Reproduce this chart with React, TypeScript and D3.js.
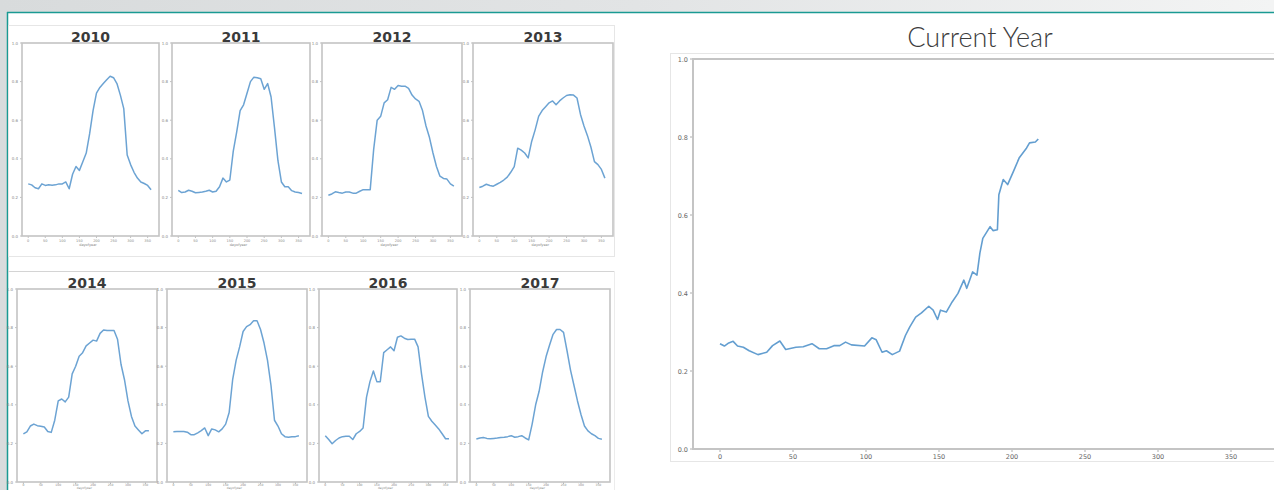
import React from 'react';
import * as d3 from 'd3';

// day of year grid used for the small multiples
const DAYS = [0, 10, 20, 30, 40, 50, 60, 70, 80, 90, 100, 110, 120, 130, 140, 150, 160, 170, 180,
    190, 200, 210, 220, 230, 240, 250, 260, 270, 280, 290, 300, 310, 320, 330, 340, 350, 360];

const YEARS = ['2010', '2011', '2012', '2013', '2014', '2015', '2016', '2017'];

const V2010 = [0.27, 0.265, 0.25, 0.245, 0.27, 0.262, 0.265, 0.263, 0.265, 0.27, 0.27, 0.28, 0.245,
    0.32, 0.36, 0.34, 0.385, 0.43, 0.53, 0.65, 0.74, 0.77, 0.79, 0.81, 0.828, 0.82, 0.79, 0.73, 0.66,
    0.42, 0.37, 0.33, 0.3, 0.28, 0.272, 0.262, 0.24];
const V2011 = [0.237, 0.225, 0.228, 0.237, 0.232, 0.224, 0.226, 0.228, 0.232, 0.237, 0.228, 0.232,
    0.255, 0.3, 0.28, 0.29, 0.44, 0.54, 0.65, 0.68, 0.74, 0.8, 0.823, 0.82, 0.815, 0.76, 0.79, 0.72,
    0.56, 0.39, 0.28, 0.255, 0.255, 0.235, 0.228, 0.225, 0.22];
const V2012 = [0.211, 0.218, 0.229, 0.225, 0.222, 0.228, 0.228, 0.222, 0.222, 0.232, 0.24, 0.24,
    0.24, 0.45, 0.6, 0.62, 0.69, 0.706, 0.77, 0.76, 0.78, 0.776, 0.776, 0.765, 0.73, 0.71, 0.698,
    0.65, 0.57, 0.51, 0.43, 0.36, 0.31, 0.298, 0.295, 0.27, 0.258];
const V2013 = [0.251, 0.258, 0.268, 0.262, 0.258, 0.268, 0.278, 0.29, 0.305, 0.33, 0.36, 0.455,
    0.445, 0.43, 0.405, 0.49, 0.55, 0.62, 0.65, 0.67, 0.69, 0.7, 0.68, 0.7, 0.715, 0.728, 0.732, 0.73,
    0.715, 0.63, 0.57, 0.52, 0.46, 0.385, 0.37, 0.345, 0.3];
const V2014 = [0.249, 0.26, 0.29, 0.3, 0.292, 0.289, 0.285, 0.262, 0.257, 0.32, 0.42, 0.43, 0.415,
    0.44, 0.56, 0.6, 0.652, 0.67, 0.705, 0.72, 0.735, 0.73, 0.77, 0.788, 0.785, 0.785, 0.785, 0.74,
    0.61, 0.53, 0.42, 0.34, 0.29, 0.27, 0.25, 0.265, 0.265];
const V2015 = [0.261, 0.262, 0.262, 0.262, 0.258, 0.245, 0.245, 0.255, 0.266, 0.28, 0.24, 0.275,
    0.27, 0.26, 0.275, 0.3, 0.36, 0.53, 0.63, 0.7, 0.78, 0.805, 0.815, 0.835, 0.835, 0.79, 0.72, 0.63,
    0.5, 0.32, 0.29, 0.25, 0.235, 0.232, 0.235, 0.235, 0.24];
const V2016 = [0.24, 0.22, 0.198, 0.215, 0.228, 0.235, 0.237, 0.237, 0.22, 0.25, 0.262, 0.28, 0.44,
    0.52, 0.575, 0.52, 0.52, 0.67, 0.685, 0.7, 0.68, 0.75, 0.757, 0.745, 0.738, 0.74, 0.74, 0.7, 0.56,
    0.44, 0.34, 0.315, 0.295, 0.275, 0.25, 0.224, 0.224];
const V2017 = [0.223, 0.228, 0.231, 0.226, 0.224, 0.226, 0.228, 0.231, 0.232, 0.235, 0.24, 0.232,
    0.235, 0.24, 0.228, 0.218, 0.3, 0.4, 0.47, 0.57, 0.65, 0.71, 0.765, 0.79, 0.79, 0.775, 0.68, 0.58,
    0.5, 0.42, 0.35, 0.29, 0.265, 0.25, 0.24, 0.226, 0.222];

const YEAR_VALUES = [V2010, V2011, V2012, V2013, V2014, V2015, V2016, V2017];

// current year, read at irregular days
const CUR_DAYS = [0, 3, 6, 9, 12, 16, 20, 26, 32, 36, 41, 45, 52, 57, 63, 68, 73, 78, 82, 86, 90, 99,
    104, 107, 111, 114, 118, 123, 127, 130, 134, 138, 143, 146, 149, 151, 155, 159, 163, 167, 169,
    173, 176, 178, 180, 185, 187, 190, 191, 194, 197, 201, 205, 210, 212, 216, 218];
const CUR_VALUES = [0.27, 0.264, 0.272, 0.276, 0.264, 0.261, 0.252, 0.242, 0.248, 0.265, 0.277,
    0.255, 0.261, 0.262, 0.27, 0.257, 0.257, 0.265, 0.265, 0.274, 0.267, 0.264, 0.285, 0.28, 0.248,
    0.252, 0.242, 0.251, 0.291, 0.313, 0.338, 0.349, 0.366, 0.356, 0.332, 0.356, 0.351, 0.377, 0.399,
    0.433, 0.412, 0.454, 0.446, 0.502, 0.54, 0.57, 0.56, 0.562, 0.652, 0.691, 0.678, 0.712, 0.747,
    0.772, 0.785, 0.787, 0.795];

const X_TICKS = [0, 50, 100, 150, 200, 250, 300, 350];
const Y_TICKS = [0, 0.2, 0.4, 0.6, 0.8, 1.0];

const LINE = '#5293cb';
const SPINE = '#c4c4c4';

// small multiple frames: [left, right, top, bottom]
const FRAMES = [
    [22, 159, 43, 236], [172, 310, 43, 236], [322, 462, 43, 236], [473, 613, 43, 236],
    [17, 157, 289, 482], [167, 307, 289, 482], [319, 457, 289, 482], [470, 610, 289, 482]
];

const SmallChart = ({ frame, title, values }) => {
    const [l, r, t, b] = frame;
    const x = d3.scaleLinear().domain([-18.25, 383.25]).range([l, r]);
    const y = d3.scaleLinear().domain([0, 1]).range([b, t]);
    const line = d3.line().x((d, i) => x(DAYS[i])).y(d => y(d));
    // the lower row is cut by the bottom of the page, so squeeze its axis texts a little
    const tight = b + 10 > 488;
    const tickY = tight ? b + 4.3 : b + 6;
    const labelY = tight ? 489 : b + 10;
    const fs = tight ? 3 : 3.5;
    return (
        <g>
            <text x={(l + r) / 2} y={t - 1} textAnchor="middle" fontFamily="DejaVu Sans"
                fontWeight="bold" fontSize={14} fill="#3a3a3a">{title}</text>
            {Y_TICKS.map(v => (
                <g key={v}>
                    <line x1={l - 2} x2={l} y1={y(v)} y2={y(v)} stroke="#999" strokeWidth={0.6} />
                    <text x={l - 4} y={y(v) + 1.5} textAnchor="end" fontSize={4} fill="#888"
                        fontFamily="DejaVu Sans">{v.toFixed(1)}</text>
                </g>
            ))}
            {X_TICKS.map(v => (
                <g key={v}>
                    <line x1={x(v)} x2={x(v)} y1={b} y2={b + 2} stroke="#999" strokeWidth={0.6} />
                    <text x={x(v)} y={tickY} textAnchor="middle" fontSize={fs} fill="#888"
                        fontFamily="DejaVu Sans">{v}</text>
                </g>
            ))}
            <text x={x(175)} y={labelY} textAnchor="middle" fontSize={fs} fill="#888"
                fontFamily="DejaVu Sans">dayofyear</text>
            <path d={line(values)} fill="none" stroke={LINE} strokeWidth={1.5} strokeOpacity={0.85}
                strokeLinejoin="round" />
            <rect x={l} y={t} width={r - l} height={b - t} fill="none" stroke={SPINE} strokeWidth={1.6} />
        </g>
    );
};

const BigChart = () => {
    const l = 693, t = 59, b = 449;
    const x = d3.scaleLinear().domain([0, 350]).range([720, 1231]);
    const y = d3.scaleLinear().domain([0, 1]).range([b, t]);
    const r = x(383.25);
    const line = d3.line().x((d, i) => x(CUR_DAYS[i])).y(d => y(d));
    return (
        <g>
            <rect x={670.5} y={53.5} width={620} height={408} fill="#fff" stroke="#e6e6e6" strokeWidth={1} />
            <text x={980} y={47} textAnchor="middle" fontFamily="Lato" fontWeight={300} fontSize={27}
                fill="#3c3c3c">Current Year</text>
            {Y_TICKS.map(v => (
                <g key={v}>
                    <line x1={l - 3} x2={l} y1={y(v)} y2={y(v)} stroke="#999" strokeWidth={0.8} />
                    <text x={l - 5} y={y(v) + 2.5} textAnchor="end" fontSize={6.5} fill="#666"
                        fontFamily="DejaVu Sans">{v.toFixed(1)}</text>
                </g>
            ))}
            {X_TICKS.map(v => (
                <g key={v}>
                    <line x1={x(v)} x2={x(v)} y1={b} y2={b + 3} stroke="#999" strokeWidth={0.8} />
                    <text x={x(v)} y={b + 10} textAnchor="middle" fontSize={6.5} fill="#666"
                        fontFamily="DejaVu Sans">{v}</text>
                </g>
            ))}
            <path d={line(CUR_VALUES)} fill="none" stroke={LINE} strokeWidth={1.6} strokeOpacity={0.9}
                strokeLinejoin="round" />
            <rect x={l} y={t} width={r - l} height={b - t} fill="none" stroke={SPINE} strokeWidth={2} />
        </g>
    );
};

export default function App() {
    return (
        <svg width={1274} height={490} style={{ position: 'absolute', left: 0, top: 0 }}>
            <defs>
                <linearGradient id="hdr" x1="0" x2="1" y1="0" y2="0">
                    <stop offset="0" stopColor="#d8dbdc" />
                    <stop offset="0.5" stopColor="#e2e4e5" />
                    <stop offset="1" stopColor="#f3f4f4" />
                </linearGradient>
            </defs>
            <rect x={0} y={0} width={1274} height={490} fill="#fff" />
            <rect x={0} y={0} width={1274} height={12} fill="url(#hdr)" />
            <rect x={0} y={12} width={7} height={478} fill="#d9dcdd" />
            <line x1={7} x2={1274} y1={12.5} y2={12.5} stroke="#1a9a93" strokeWidth={1.5} />
            <line x1={7.5} x2={7.5} y1={12} y2={490} stroke="#1a9a93" strokeWidth={1.5} />
            {/* panel outlines around the small multiples */}
            <rect x={8.5} y={25.5} width={606} height={231} fill="none" stroke="#e6e6e6" strokeWidth={1} />
            <line x1={8} x2={615} y1={271.5} y2={271.5} stroke="#d4d4d4" strokeWidth={1} />
            <line x1={614.5} x2={614.5} y1={271} y2={490} stroke="#ececec" strokeWidth={1} />
            {YEARS.map((yr, i) => (
                <SmallChart key={yr} frame={FRAMES[i]} title={yr} values={YEAR_VALUES[i]} />
            ))}
            <BigChart />
        </svg>
    );
}
